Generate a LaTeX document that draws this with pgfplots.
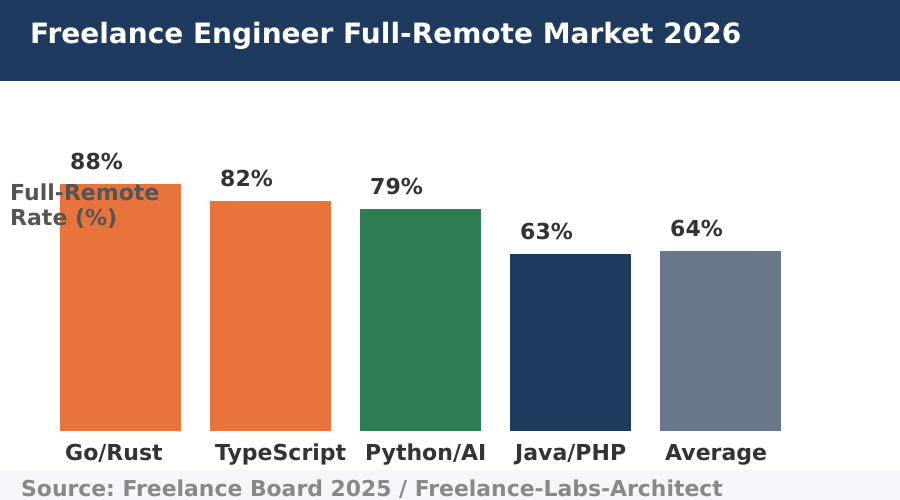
\documentclass[border=0pt]{standalone}
\usepackage{fontspec}
\setmainfont{DejaVu Sans}
\usepackage{pgfplots}
\pgfplotsset{compat=1.18}

\definecolor{navy}{HTML}{1F3A5F}
\definecolor{orangebar}{HTML}{E8743B}
\definecolor{greenbar}{HTML}{2E7D52}
\definecolor{graybar}{HTML}{687789}
\definecolor{ink}{HTML}{333333}
\definecolor{labelgray}{HTML}{555555}
\definecolor{footbg}{HTML}{F5F6FA}
\definecolor{foottext}{HTML}{888888}

\newcommand{\fsz}[1]{\fontsize{#1}{#1}\selectfont\bfseries\frenchspacing}

\pgfplotsset{
  valuebar/.style={
    ybar, bar shift=0pt, draw=none, bar width=0.80667, fill=#1,
    nodes near coords={\pgfmathprintnumber{\pgfplotspointmeta}\%},
    nodes near coords align={anchor=base west},
    nodes near coords style={anchor=base west, inner sep=0pt,
      xshift=-50.5pt, yshift=14.5pt, font=\fsz{22}, text=ink},
  },
}

\begin{document}
\begin{tikzpicture}[x=1pt,y=1pt]
\useasboundingbox (0,0) rectangle (900,500);
\clip (0,0) rectangle (900,500);
\fill[white] (0,0) rectangle (900,500);
% header band
\fill[navy] (0,419) rectangle (900,500);
\node[anchor=base west, inner sep=0pt, text=white, font=\fsz{28}]
  at (30,456) {Freelance Engineer Full-Remote Market 2026};
% footer band
\fill[footbg] (0,0) rectangle (900,30);
\node[anchor=base west, inner sep=0pt, text=foottext, font=\fsz{21.9}]
  at (21,3) {Source: Freelance Board 2025 / Freelance-Labs-Architect};

\begin{axis}[
  at={(0pt,69pt)}, anchor=south west,
  scale only axis, width=900pt, height=350pt,
  xmin=-0.80333, xmax=5.19667, ymin=0, ymax=124.69,
  axis line style={draw=none},
  ytick=\empty,
  xtick={0,1,2,3,4},
  xticklabels={Go/Rust,TypeScript,Python/AI,Java/PHP,Average},
  major tick length=0pt,
  xticklabel style={anchor=base west, inner sep=0pt, xshift=-55.5pt,
    yshift=-29.5pt, font=\fsz{22}, text=ink},
  /pgf/number format/assume math mode=true,
  clip=false,
]
\addplot[valuebar=orangebar] coordinates {(0,88)};
\addplot[valuebar=orangebar] coordinates {(1,82)};
\addplot[valuebar=greenbar]  coordinates {(2,79)};
\addplot[valuebar=navy]      coordinates {(3,63)};
\addplot[valuebar=graybar]   coordinates {(4,64)};
\end{axis}

% y-axis title, set over the first bar
\node[anchor=base west, inner sep=0pt, text=labelgray, font=\fsz{22}]
  at (10,299) {Full-Remote};
\node[anchor=base west, inner sep=0pt, text=labelgray, font=\fsz{22}]
  at (10,274) {Rate (\%)};
\end{tikzpicture}
\end{document}
